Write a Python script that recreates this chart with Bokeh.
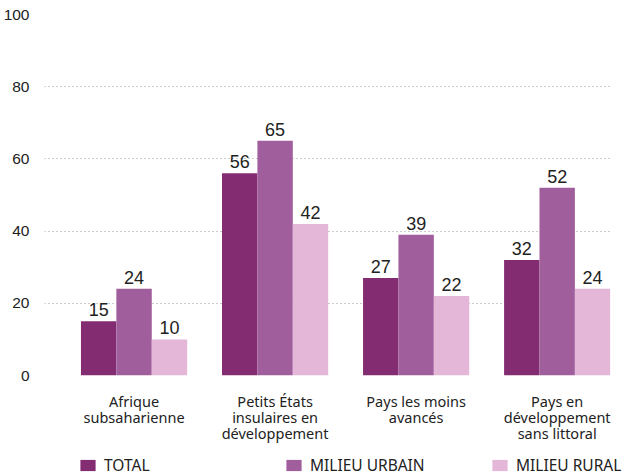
from bokeh.plotting import figure
from bokeh.models import ColumnDataSource, Range1d, FixedTicker, Legend, LegendItem
from bokeh.transform import dodge
from bokeh.core.properties import value
from bokeh.embed import file_html
from bokeh.resources import INLINE

categories = ["Afrique\nsubsaharienne", "Petits États\ninsulaires en\ndéveloppement",
              "Pays les moins\navancés", "Pays en\ndéveloppement\nsans littoral"]
total = [15, 56, 27, 32]
urbain = [24, 65, 39, 52]
rural = [10, 42, 22, 24]
series_names = ["TOTAL", "MILIEU URBAIN", "MILIEU RURAL"]
colors = ["#842C72", "#A15E9D", "#E4B6D8"]
y_ticks = [0, 20, 40, 60, 80, 100]

xpos = list(range(len(categories)))
src = ColumnDataSource(dict(x=xpos, total=total, urbain=urbain, rural=rural,
                            total_t=[str(v) for v in total],
                            urbain_t=[str(v) for v in urbain],
                            rural_t=[str(v) for v in rural]))

p = figure(width=623, height=448, output_backend="svg", toolbar_location=None,
           x_range=Range1d(-0.635, 3.378), y_range=Range1d(0, 100),
           min_border_left=35, min_border_right=13, min_border_top=14, min_border_bottom=73)

bw = 0.251
offsets = [-bw, 0.0, bw]
cols = ["total", "urbain", "rural"]
for off, col, c in zip(offsets, cols, colors):
    p.vbar(x=dodge("x", off, range=p.x_range), top=col, width=bw, source=src,
           fill_color=c, line_color=None)
    p.text(x=dodge("x", off, range=p.x_range), y=col, text=col + "_t", source=src,
           text_align="center", text_baseline="bottom", y_offset=-5,
           text_font=value("Liberation Sans"), text_font_size="18px", text_color="#222222")

p.outline_line_color = None
p.xgrid.grid_line_color = None
p.ygrid.grid_line_color = "#999999"
p.ygrid.grid_line_dash = "1 3"
p.ygrid.grid_line_width = 1
p.ygrid.ticker = FixedTicker(ticks=y_ticks)

p.yaxis.ticker = FixedTicker(ticks=y_ticks)
p.yaxis.axis_line_color = None
p.yaxis.major_tick_line_color = None
p.yaxis.minor_tick_line_color = None
p.yaxis.major_label_standoff = 9
p.yaxis.major_label_text_font = "Liberation Sans"
p.yaxis.major_label_text_font_size = "15.5px"
p.yaxis.major_label_text_color = "#222222"

p.xaxis.ticker = FixedTicker(ticks=xpos)
p.xaxis.major_label_overrides = {i: c for i, c in zip(xpos, categories)}
p.xaxis.axis_line_color = None
p.xaxis.major_tick_line_color = None
p.xaxis.minor_tick_line_color = None
p.xaxis.major_label_standoff = 9
p.xaxis.major_label_text_font = "Noto Sans"
p.xaxis.major_label_text_font_size = "14.5px"
p.xaxis.major_label_text_line_height = 0.8
p.xaxis.major_label_text_color = "#222222"

# legend strip (separate root, no axes)
lg = figure(width=623, height=28, output_backend="svg", toolbar_location=None,
            x_range=Range1d(0, 1), y_range=Range1d(0, 1),
            x_axis_location=None, y_axis_location=None,
            min_border_left=0, min_border_right=0, min_border_top=0, min_border_bottom=0)
lg.grid.visible = False
lg.outline_line_color = None
placeholder = ColumnDataSource(dict(x=[float("nan")], top=[float("nan")]))
lrs = [lg.vbar(x="x", top="top", width=0.1, source=placeholder, fill_color=c, line_color=None)
       for c in colors]
legend = Legend(items=[LegendItem(label=n, renderers=[r]) for n, r in zip(series_names, lrs)],
                orientation="horizontal", location=(78, 0),
                glyph_width=19, glyph_height=14, label_standoff=7, label_width=122,
                label_height=14, spacing=58, padding=0, margin=0,
                label_text_font="Noto Sans", label_text_font_size="15.5px",
                label_text_color="#222222", background_fill_alpha=0, border_line_color=None)
lg.add_layout(legend, "center")

open("out.html", "w").write(file_html([p, lg], INLINE))
